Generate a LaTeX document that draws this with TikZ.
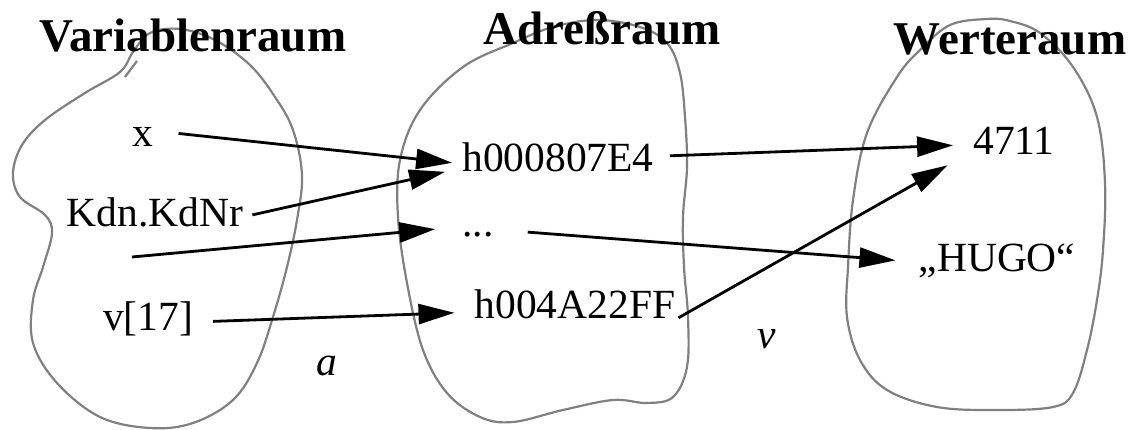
\documentclass[tikz,border=0pt]{standalone}
\usepackage{fontspec}
\setmainfont{Liberation Serif}
\usetikzlibrary{arrows.meta}
\begin{document}
\begin{tikzpicture}[x=1pt,y=-1pt,
  blob/.style={draw=black!50, line width=2.2pt},
  title/.style={font=\fontsize{47}{50}\selectfont\bfseries, anchor=base, inner sep=0pt},
  item/.style={font=\fontsize{41.5}{44}\selectfont, anchor=base, inner sep=0pt},
  mapname/.style={font=\fontsize{41.5}{44}\selectfont\itshape, anchor=base, inner sep=0pt},
  link/.style={line width=2.8pt, -{Triangle[length=36pt,width=20pt]}}]

\useasboundingbox (0,0) rectangle (1137,430);

% the three spaces
\draw[blob] plot[smooth cycle, tension=0.6] coordinates {
  (133,52) (150,33) (180,29) (215,40) (250,65) (275,97) (293,130) (302,175)
  (297,220) (287,267) (273,317) (257,363) (233,400) (193,423) (150,428)
  (100,417) (57,383) (33,343) (33,300) (43,267) (52,233) (45,215) (20,197)
  (13,173) (22,145) (45,120) (85,93) (120,72)};
\draw[blob] (125,77) -- (137,61);
\draw[blob] plot[smooth cycle, tension=0.6] coordinates {
  (463,67) (513,43) (553,27) (597,20) (640,27) (667,43) (680,73) (685,117)
  (687,167) (683,217) (684,267) (688,317) (687,367) (673,397) (647,403)
  (613,400) (563,410) (513,422) (480,417) (447,393) (423,350) (407,283)
  (398,217) (400,160) (420,110)};
\draw[blob] plot[smooth cycle, tension=0.6] coordinates {
  (950,25) (987,19) (1010,21) (1040,33) (1073,67) (1097,117) (1105,183)
  (1103,250) (1097,300) (1087,350) (1073,393) (1053,407) (997,410)
  (937,407) (887,390) (860,360) (847,317) (848,267) (853,200) (867,133)
  (897,77) (920,50)};

% headings
\node[title] (tvar) at (193,52) {Variablenraum};
\node[title] (tadr) at (602,45) {Adreßraum};
\node[title] (twert) at (1010,55) {Werteraum};

% entries
\node[item] (x) at (143,147) {x};
\node[item] (kdn) at (155,227) {Kdn.KdNr};
\node[item] (v17) at (148,330) {v[17]};
\node[item] (addr1) at (558,172) {h000807E4};
\node[item] (dots) at (478,237) {...};
\node[item] (addr2) at (575,318) {h004A22FF};
\node[item] (val) at (1014,155) {4711};
\node[item] (hugo) at (997,272) {„HUGO“};
\node[mapname] (ma) at (327,375) {a};
\node[mapname] (mv) at (767,348) {v};

\coordinate (src3) at (132,257);

% mapping a
\draw[link] ([shift={(25,-4)}]x.east) -- ([shift={(-10,5)}]addr1.west);
\draw[link] ([shift={(9,2)}]kdn.east) -- ([shift={(-17,14)}]addr1.west);
\draw[link] (src3) -- ([shift={(-27,-6)}]dots.west);
\draw[link] ([shift={(20,3)}]v17.east) -- ([shift={(-20,9)}]addr2.west);
% mapping v
\draw[link] ([shift={(16,-2)}]addr1.east) -- ([shift={(-20,4)}]val.west);
\draw[link] ([shift={(34,-3)}]dots.east) -- ([shift={(-23,-1)}]hugo.west);
\draw[link] ([shift={(3,14)}]addr2.east) -- ([shift={(-25.5,24)}]val.west);
\end{tikzpicture}
\end{document}
